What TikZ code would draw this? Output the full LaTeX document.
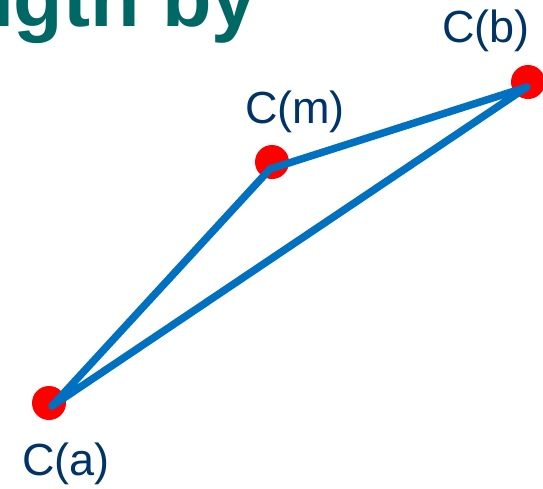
\documentclass[tikz,border=0pt]{standalone}
\usepackage{fontspec}
\setmainfont{Liberation Sans}
\usetikzlibrary{positioning}
\definecolor{cteal}{RGB}{0,104,100}
\definecolor{cnavy}{RGB}{0,51,102}
\definecolor{cblue}{RGB}{0,112,192}
\definecolor{cred}{RGB}{255,0,0}

\begin{document}
\begin{tikzpicture}[
    x=1pt, y=-1pt,
    dot/.style={circle, fill=cred, inner sep=0pt, minimum size=34pt},
    lbl/.style={anchor=base, inner sep=0pt, text=cnavy, font=\fontsize{45}{48}\selectfont},
    edge/.style={cblue, line width=7.5pt, line join=round}
]
  \clip (0,0) rectangle (543,488);

  % heading, cut by the frame
  \node[anchor=base east, inner sep=0pt, text=cteal, font=\fontsize{81}{84}\selectfont\bfseries] (head) at (257,26) {length by};

  \node[dot] (a) at (49,403) {};
  \node[dot] (m) at (272,162) {};
  \node[dot] (b) at (528,82) {};

  \coordinate (va) at (52,406);
  \coordinate (vm) at (270,169);
  \coordinate (vb) at (527,87);

  \draw[edge] (va) -- (vm) -- (vb) -- cycle;

  \node[lbl] (la) at (66,475) {C(a)};
  \node[lbl] (lm) at (295,123) {C(m)};
  \node[lbl] (lb) at (486,42) {C(b)};
\end{tikzpicture}
\end{document}
